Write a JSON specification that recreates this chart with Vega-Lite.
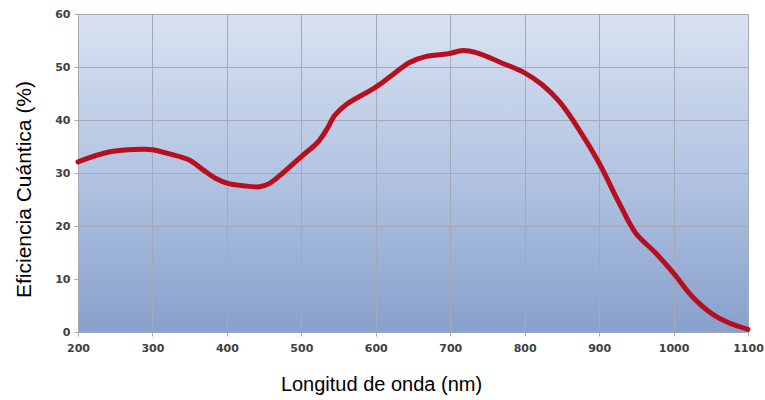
{
  "$schema": "https://vega.github.io/schema/vega-lite/v6.json",
  "width": 670,
  "height": 318,
  "autosize": {"type": "none"},
  "padding": {"left": 78, "top": 14, "right": 17, "bottom": 68},
  "background": "white",
  "config": {
    "view": {
      "stroke": "#b4b9c2",
      "strokeWidth": 1,
      "fill": {
        "gradient": "linear",
        "x1": 0, "y1": 0, "x2": 0, "y2": 1,
        "stops": [
          {"offset": 0, "color": "#d8e2f1"},
          {"offset": 0.5, "color": "#b3c4e2"},
          {"offset": 1, "color": "#87a0cc"}
        ]
      }
    },
    "axis": {
      "gridColor": "#a3a9b5",
      "gridWidth": 1,
      "gridOpacity": 1,
      "domainColor": "#a3a9b5",
      "tickColor": "#a3a9b5",
      "tickSize": 4,
      "labelFont": "DejaVu Sans",
      "labelFontWeight": "bold",
      "labelFontSize": 11,
      "labelColor": "#404040",
      "titleFont": "Liberation Sans",
      "titleFontWeight": "normal",
      "titleFontSize": 20,
      "titleColor": "#000000"
    }
  },
  "data": {
    "values": [
      {"nm": 200, "qe": 32.1},
      {"nm": 243, "qe": 34.0},
      {"nm": 288, "qe": 34.5},
      {"nm": 300, "qe": 34.4},
      {"nm": 323, "qe": 33.6},
      {"nm": 350, "qe": 32.4},
      {"nm": 368, "qe": 30.6},
      {"nm": 386, "qe": 28.9},
      {"nm": 400, "qe": 28.1},
      {"nm": 422, "qe": 27.6},
      {"nm": 444, "qe": 27.4},
      {"nm": 458, "qe": 28.1},
      {"nm": 476, "qe": 30.1},
      {"nm": 500, "qe": 33.1},
      {"nm": 522, "qe": 35.8},
      {"nm": 534, "qe": 38.2},
      {"nm": 545, "qe": 40.9},
      {"nm": 560, "qe": 42.9},
      {"nm": 600, "qe": 46.2},
      {"nm": 623, "qe": 48.6},
      {"nm": 646, "qe": 50.9},
      {"nm": 668, "qe": 52.0},
      {"nm": 697, "qe": 52.5},
      {"nm": 717, "qe": 53.1},
      {"nm": 735, "qe": 52.7},
      {"nm": 767, "qe": 50.9},
      {"nm": 800, "qe": 48.9},
      {"nm": 824, "qe": 46.6},
      {"nm": 847, "qe": 43.4},
      {"nm": 873, "qe": 38.2},
      {"nm": 900, "qe": 31.9},
      {"nm": 927, "qe": 24.3},
      {"nm": 949, "qe": 18.7},
      {"nm": 976, "qe": 14.9},
      {"nm": 1000, "qe": 11.1},
      {"nm": 1025, "qe": 6.7},
      {"nm": 1052, "qe": 3.4},
      {"nm": 1075, "qe": 1.7},
      {"nm": 1100, "qe": 0.5}
    ]
  },
  "mark": {"type": "line", "color": "#b80f1f", "strokeWidth": 5, "interpolate": "catmull-rom", "strokeCap": "round"},
  "encoding": {
    "x": {
      "field": "nm", "type": "quantitative",
      "scale": {"domain": [200, 1100], "nice": false},
      "axis": {"values": [200,300,400,500,600,700,800,900,1000,1100], "format": "d", "title": "Longitud de onda (nm)", "titlePadding": 21, "titleX": 303, "labelPadding": 6, "labelFlush": false}
    },
    "y": {
      "field": "qe", "type": "quantitative",
      "scale": {"domain": [0, 60], "nice": false},
      "axis": {"values": [0,10,20,30,40,50,60], "title": "Eficiencia Cuántica (%)", "titleFontSize": 21, "titleY": 175, "titlePadding": 20, "labelPadding": 4}
    }
  }
}
